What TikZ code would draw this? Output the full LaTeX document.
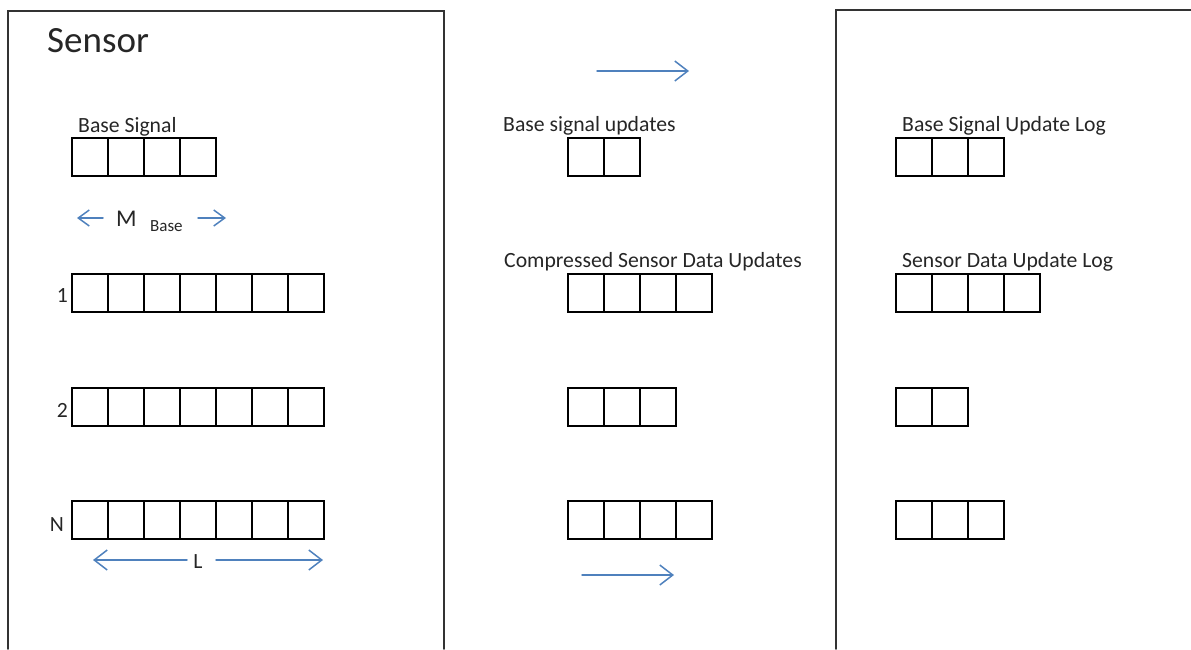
\documentclass[tikz,border=0pt]{standalone}
\usepackage{fontspec}
\setmainfont{Carlito}
\usepackage{tikz}
\usetikzlibrary{arrows.meta}

\definecolor{sigblue}{HTML}{4F81BD}
\definecolor{ink}{HTML}{262626}

% one row of n empty cells, top left corner at (x,y)
\newcommand{\cellrow}[4]{%
  \foreach \i in {1,...,#4}
    \node[cell] (#1-\i) at ({#2+36*(\i-1)},#3) {};}

\begin{document}
\begin{tikzpicture}[x=1pt,y=-1pt,line cap=round,
  cell/.style={draw=black,line width=1.6pt,anchor=north west,
    minimum width=36pt,minimum height=38pt,inner sep=0pt,outer sep=0pt},
  label text/.style={anchor=base west,inner sep=0pt,text=ink,
    font=\fontsize{21.7}{26}\selectfont},
  row num/.style={anchor=base east,inner sep=0pt,text=ink,
    font=\fontsize{21.7}{26}\selectfont},
  frame/.style={draw=black!80,line width=1.8pt},
  sig/.style={draw=sigblue,line width=1.5pt,
    -{Straight Barb[length=13pt,width=20pt,line width=1.5pt]}},
  small sig/.style={draw=sigblue,line width=1.5pt,
    -{Straight Barb[length=11pt,width=16pt,line width=1.5pt]}}]

  \useasboundingbox (0,0) rectangle (1191,649);

  % frames
  \coordinate (sbl) at (8,649);
  \coordinate (stl) at (8,11);
  \coordinate (str) at (444,11);
  \coordinate (sbr) at (444,649);
  \draw[frame] (sbl) -- (stl) -- (str) -- (sbr);
  \coordinate (lbl) at (836,649);
  \coordinate (ltl) at (836,10);
  \coordinate (ltr) at (1191,10);
  \draw[frame] (lbl) -- (ltl) -- (ltr);

  % sensor side
  \node[anchor=base west,inner sep=0pt,text=ink,
    font=\fontsize{37}{42}\selectfont] (sensor) at (47,52) {Sensor};
  \node[label text] (baselbl) at (78,132) {Base Signal};
  \cellrow{base}{72}{138}{4}

  \node[anchor=base west,inner sep=0pt,text=ink,
    font=\fontsize{24}{28}\selectfont] (M) at (116,226) {M};
  \node[anchor=base west,inner sep=0pt,text=ink,
    font=\fontsize{17}{20}\selectfont] (Mbase) at (150,231) {Base};
  \coordinate (mL0) at (77,218);
  \coordinate (mL1) at (103,218);
  \coordinate (mR0) at (198,218);
  \coordinate (mR1) at (226,218);
  \draw[small sig] (mL1) -- (mL0);
  \draw[small sig] (mR0) -- (mR1);

  \node[row num] (n1) at (68,302) {1};
  \cellrow{sa}{72}{274}{7}
  \node[row num] (n2) at (68,417) {2};
  \cellrow{sb}{72}{388}{7}
  \node[row num] (nN) at (64,531) {N};
  \cellrow{sc}{72}{501}{7}

  \node[anchor=base,inner sep=0pt,text=ink,
    font=\fontsize{21.7}{26}\selectfont] (L) at (198,568) {L};
  \coordinate (Lleft) at (93,560);
  \coordinate (Lright) at (323,560);
  \coordinate (Lfrom) at (187,560);
  \coordinate (Lto) at (216,560);
  \draw[sig] (Lfrom) -- (Lleft);
  \draw[sig] (Lto) -- (Lright);

  % updates in the middle
  \coordinate (topA) at (597,71);
  \coordinate (topB) at (689,71);
  \draw[sig] (topA) -- (topB);
  \node[label text] (updlbl) at (503,131) {Base signal updates};
  \cellrow{upd}{568}{138}{2}
  \node[label text] (cmplbl) at (504,267) {Compressed Sensor Data Updates};
  \cellrow{ma}{568}{274}{4}
  \cellrow{mb}{568}{388}{3}
  \cellrow{mc}{568}{501}{4}
  \coordinate (botA) at (582,575);
  \coordinate (botB) at (674,575);
  \draw[sig] (botA) -- (botB);

  % logs
  \node[label text] (loglbl) at (902,131) {Base Signal Update Log};
  \cellrow{log}{896}{138}{3}
  \node[label text] (dloglbl) at (902,267) {Sensor Data Update Log};
  \cellrow{ra}{896}{274}{4}
  \cellrow{rb}{896}{388}{2}
  \cellrow{rc}{896}{501}{3}
\end{tikzpicture}
\end{document}
